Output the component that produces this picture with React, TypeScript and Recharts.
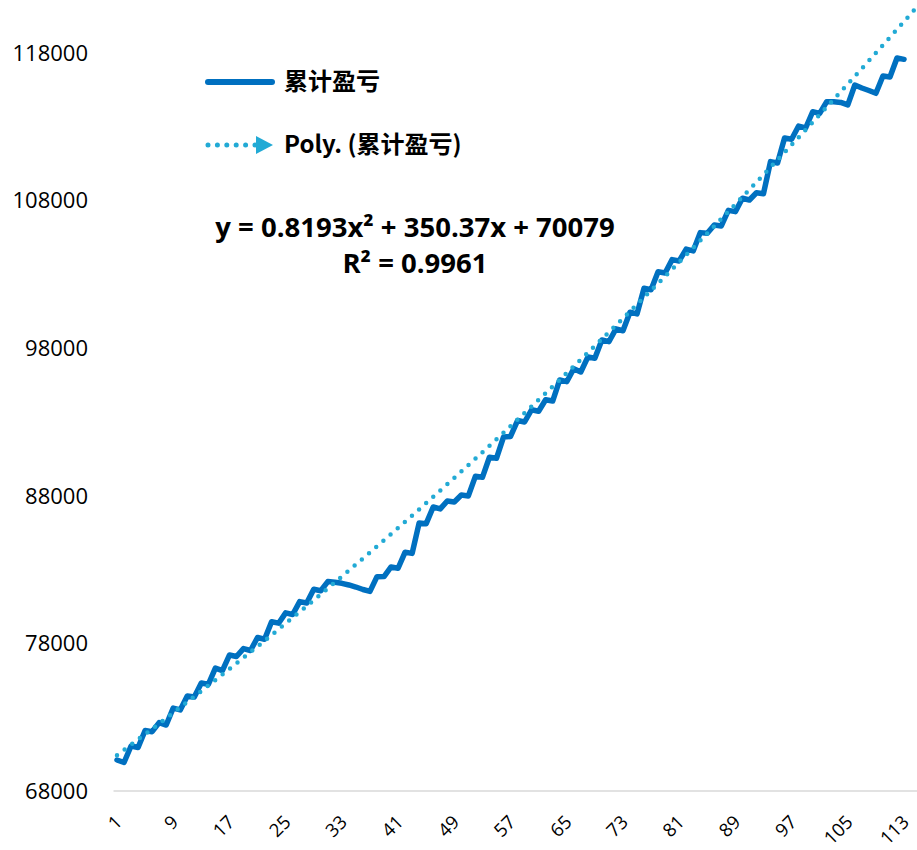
import React from 'react';
import { LineChart, Line, XAxis, YAxis, Legend } from 'recharts';

// 类别序号 1..113（时间序号）
const categoryCount = 113;
const categories: number[] = Array.from({ length: categoryCount }, (_, i) => i + 1);

// 累计盈亏
const pnl: number[] = [
  70100, 69930, 71050, 70950, 72100, 72020, 72630, 72470, 73620, 73490,
  74440, 74370, 75320, 75220, 76330, 76160, 77210, 77110, 77650, 77520,
  78400, 78280, 79470, 79370, 80070, 79960, 80830, 80740, 81670, 81570,
  82190, 82140, 82070, 81960, 81820, 81650, 81520, 82520, 82530, 83180,
  83090, 84180, 84100, 86160, 86110, 87240, 87110, 87650, 87580, 88050,
  87990, 89320, 89250, 90610, 90540, 91980, 92020, 93100, 93000, 93830,
  93730, 94510, 94420, 95850, 95730, 96610, 96390, 97400, 97320, 98560,
  98440, 99310, 99180, 100440, 100320, 102060, 101960, 103180, 103100, 104000,
  103910, 104710, 104590, 105830, 105780, 106350, 106280, 107340, 107250, 108160,
  108040, 108530, 108470, 110640, 110550, 112240, 112160, 113050, 112920, 114020,
  113910, 114700, 114690, 114650, 114480, 115830, 115630, 115460, 115270, 116440,
  116370, 117660, 117570,
];

// 趋势线（图中显示的多项式）
const trendA = 0.8193;
const trendB = 350.37;
const trendC = 70079;
const trendForwardPeriods = 3;

const yTicks: number[] = [68000, 78000, 88000, 98000, 108000, 118000];
const yDomain: [number, number] = [68000, 121590];

const seriesName = '累计盈亏';
const trendName = 'Poly. (累计盈亏)';
const equationText = 'y = 0.8193x² + 350.37x + 70079';
const r2Text = 'R² = 0.9961';

const allCats = [
  ...categories,
  ...Array.from({ length: trendForwardPeriods }, (_, i) => categoryCount + i + 1),
];
const rows = allCats.map((c, i) => ({
  cat: c,
  pnl: i < pnl.length ? pnl[i] : undefined,
  trend: trendA * c * c + trendB * c + trendC,
}));

const MAIN = '#0070C0';
const TREND = '#22AAD5';

const XTick = (props: any) => {
  const { x, y, payload } = props;
  const ax = x + 1;
  const ay = y + 27;
  return (
    <text
      x={ax}
      y={ay}
      transform={`rotate(-45 ${ax} ${ay})`}
      textAnchor="end"
      dominantBaseline="central"
      fontSize={18.5}
      fontFamily="Open Sans"
      fill="#000"
    >
      {payload.value}
    </text>
  );
};

const LegendContent = () => (
  <div
    style={{
      position: 'relative',
      width: 400,
      height: 120,
      fontFamily: '"Noto Sans CJK SC"',
      fontWeight: 700,
      fontSize: 24,
      color: '#000',
    }}
  >
    <svg width={90} height={120} style={{ position: 'absolute', left: 0, top: 0 }}>
      <line x1={11} y1={22} x2={75} y2={22} stroke={MAIN} strokeWidth={6} strokeLinecap="round" />
      <line x1={11} y1={85} x2={58} y2={85} stroke={TREND} strokeWidth={5} strokeDasharray="0 9.4" strokeLinecap="round" />
      <polygon points="59,76 76,85 59,94" fill={TREND} />
    </svg>
    <div style={{ position: 'absolute', left: 87, top: 19, transform: 'translateY(-50%)', whiteSpace: 'nowrap' }}>{seriesName}</div>
    <div style={{ position: 'absolute', left: 87, top: 82, transform: 'translateY(-50%)', whiteSpace: 'nowrap' }}>{trendName}</div>
  </div>
);

export default function App() {
  return (
    <div
      style={{
        position: 'absolute',
        left: 0,
        top: 0,
        width: 917,
        height: 850,
        overflow: 'hidden',
        background: '#fff',
      }}
    >
      <LineChart width={929} height={850} data={rows} margin={{ top: 0, right: 0, bottom: 0, left: 0 }}>
        <XAxis
          dataKey="cat"
          interval={7}
          tickLine={false}
          tickSize={0}
          tickMargin={0}
          axisLine={{ stroke: '#D9D9D9', strokeWidth: 1.5 }}
          height={59}
          tick={<XTick />}
          padding={{ left: 3.5, right: 3.9 }}
        />
        <YAxis
          type="number"
          domain={yDomain}
          ticks={yTicks}
          allowDataOverflow
          width={113.5}
          axisLine={false}
          tickLine={false}
          tickSize={0}
          tickMargin={25.5}
          tick={{ fill: '#000', fontSize: 22, fontFamily: 'Open Sans' }}
        />
        <Legend
          layout="vertical"
          align="center"
          verticalAlign="middle"
          content={<LegendContent />}
          wrapperStyle={{ position: 'absolute', left: 197, top: 60, width: 400, height: 120 }}
        />
        <Line
          dataKey="pnl"
          name={seriesName}
          stroke={MAIN}
          strokeWidth={5.5}
          strokeLinejoin="round"
          strokeLinecap="round"
          dot={false}
          isAnimationActive={false}
        />
        <Line
          dataKey="trend"
          name={trendName}
          stroke={TREND}
          strokeWidth={4.5}
          strokeDasharray="0 9.5"
          strokeLinecap="round"
          dot={false}
          isAnimationActive={false}
        />
      </LineChart>
      <div
        style={{
          position: 'absolute',
          left: 115,
          top: 209,
          width: 600,
          textAlign: 'center',
          fontFamily: 'Open Sans',
          fontWeight: 700,
          fontSize: 27.5,
          lineHeight: '36px',
          color: '#000',
          pointerEvents: 'none',
        }}
      >
        <div>{equationText}</div>
        <div>{r2Text}</div>
      </div>
    </div>
  );
}
